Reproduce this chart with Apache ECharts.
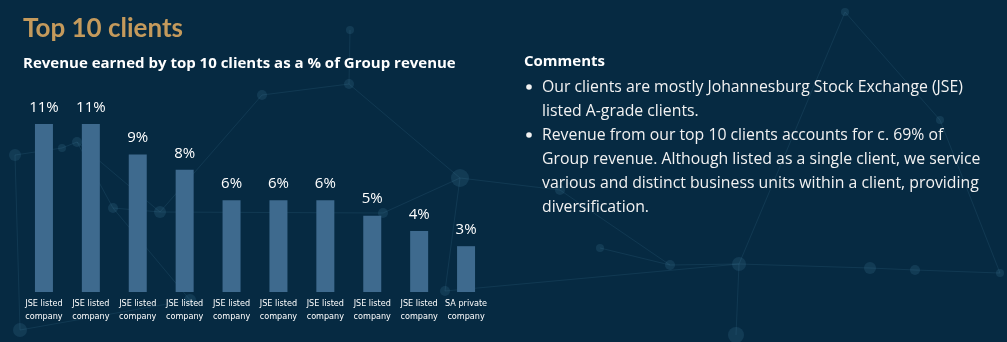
<!DOCTYPE html>
<html>
<head>
<meta charset="utf-8">
<script src="https://cdn.jsdelivr.net/npm/echarts@6/dist/echarts.min.js"></script>
<style>
  html, body { margin: 0; padding: 0; background: #062a42; }
  #chart { width: 1007px; height: 342px; }
</style>
</head>
<body>
<div id="chart"></div>
<script>
// Client categories (ten largest clients)
const categories = [
  'JSE listed\ncompany', 'JSE listed\ncompany', 'JSE listed\ncompany', 'JSE listed\ncompany',
  'JSE listed\ncompany', 'JSE listed\ncompany', 'JSE listed\ncompany', 'JSE listed\ncompany',
  'JSE listed\ncompany', 'SA private\ncompany'
];
// Share of Group revenue, %
const revenueShare = [11, 11, 9, 8, 6, 6, 6, 5, 4, 3];

const titleText = 'Top 10 clients';
const subtitleText = 'Revenue earned by top 10 clients as a % of Group revenue';
const commentsHeading = 'Comments';
const commentLines = [
  ['Our clients are mostly Johannesburg Stock Exchange (JSE)', 'listed A-grade clients.'],
  ['Revenue from our top 10 clients accounts for c. 69% of',
   'Group revenue. Although listed as a single client, we service',
   'various and distinct business units within a client, providing',
   'diversification.']
];

const chart = echarts.init(document.getElementById('chart'), null, { renderer: 'canvas' });

// Faint network decoration behind everything
const nodes = [
  [15, 155, 4], [62, 148, 2], [77, 142, 3], [113, 208, 3], [160, 212, 4], [262, 95, 3],
  [349, 84, 3], [460, 178, 7], [383, 213, 3], [445, 291, 3], [600, 248, 2], [670, 265, 3],
  [739, 264, 5], [870, 268, 4], [915, 270, 3], [1000, 273, 2], [845, 12, 2], [350, 30, 2],
  [190, 300, 4], [20, 330, 5], [736, 335, 6], [560, 190, 3], [940, 120, 2]
];
const links = [
  [0, 1], [1, 2], [2, 4], [2, 3], [3, 4], [4, 5], [5, 6], [6, 7], [7, 8], [7, 9], [4, 8],
  [10, 11], [11, 12], [12, 13], [13, 14], [14, 15], [12, 9], [12, 20], [11, 21], [6, 17],
  [16, 12], [3, 18], [18, 19], [0, 19], [21, 7], [22, 15], [22, 16]
];
const deco = [];
links.forEach(([a, b]) => {
  deco.push({
    type: 'line', silent: true, z: -10,
    shape: { x1: nodes[a][0], y1: nodes[a][1], x2: nodes[b][0], y2: nodes[b][1] },
    style: { stroke: 'rgba(70,130,160,0.17)', lineWidth: 1 }
  });
});
nodes.forEach(([x, y, r]) => {
  deco.push({
    type: 'circle', silent: true, z: -9,
    shape: { cx: x, cy: y, r: r + 2 },
    style: { fill: 'rgba(70,130,160,0.2)' }
  });
});

// Comments block
const textFont = '"Open Sans", "Noto Sans", sans-serif';
const texts = [];
texts.push({
  type: 'text', left: 524, top: 54,
  style: { text: commentsHeading, fill: '#ffffff', font: 'bold 15px ' + textFont }
});
let lineY = 87;
commentLines.forEach(item => {
  texts.push({
    type: 'circle', shape: { cx: 529, cy: lineY, r: 2.8 }, style: { fill: '#f2f2f2' }
  });
  item.forEach(line => {
    texts.push({
      type: 'text', x: 542, y: lineY,
      style: { text: line, fill: '#f2f2f2', font: '15.8px ' + textFont, verticalAlign: 'middle' }
    });
    lineY += 24;
  });
});

chart.setOption({
  backgroundColor: '#062a42',
  animation: false,
  title: [
    {
      text: titleText, left: 18, top: 11,
      textStyle: { color: '#c49a5c', fontSize: 26, fontWeight: 'bold', fontFamily: 'Lato, "Open Sans", sans-serif' }
    },
    {
      text: subtitleText, left: 18, top: 51,
      textStyle: { color: '#ffffff', fontSize: 15, fontWeight: 'bold', fontFamily: textFont }
    }
  ],
  grid: { left: 20.5, width: 469, top: 124, bottom: 50, containLabel: false },
  xAxis: {
    type: 'category',
    data: categories,
    axisLine: { show: false },
    axisTick: { show: false },
    axisLabel: {
      color: '#ffffff', fontSize: 9, lineHeight: 13, margin: 5, interval: 0,
      fontFamily: '"DejaVu Sans Condensed", "Open Sans", sans-serif'
    }
  },
  yAxis: {
    type: 'value', min: 0, max: 11,
    show: false, splitLine: { show: false }
  },
  series: [{
    type: 'bar',
    data: revenueShare,
    barWidth: 18,
    itemStyle: { color: '#3e6a8e' },
    label: {
      show: true, position: 'top', distance: 9,
      formatter: p => p.value + '%',
      color: '#ffffff', fontSize: 15, fontFamily: textFont
    }
  }],
  graphic: deco.concat(texts)
});
</script>
</body>
</html>
